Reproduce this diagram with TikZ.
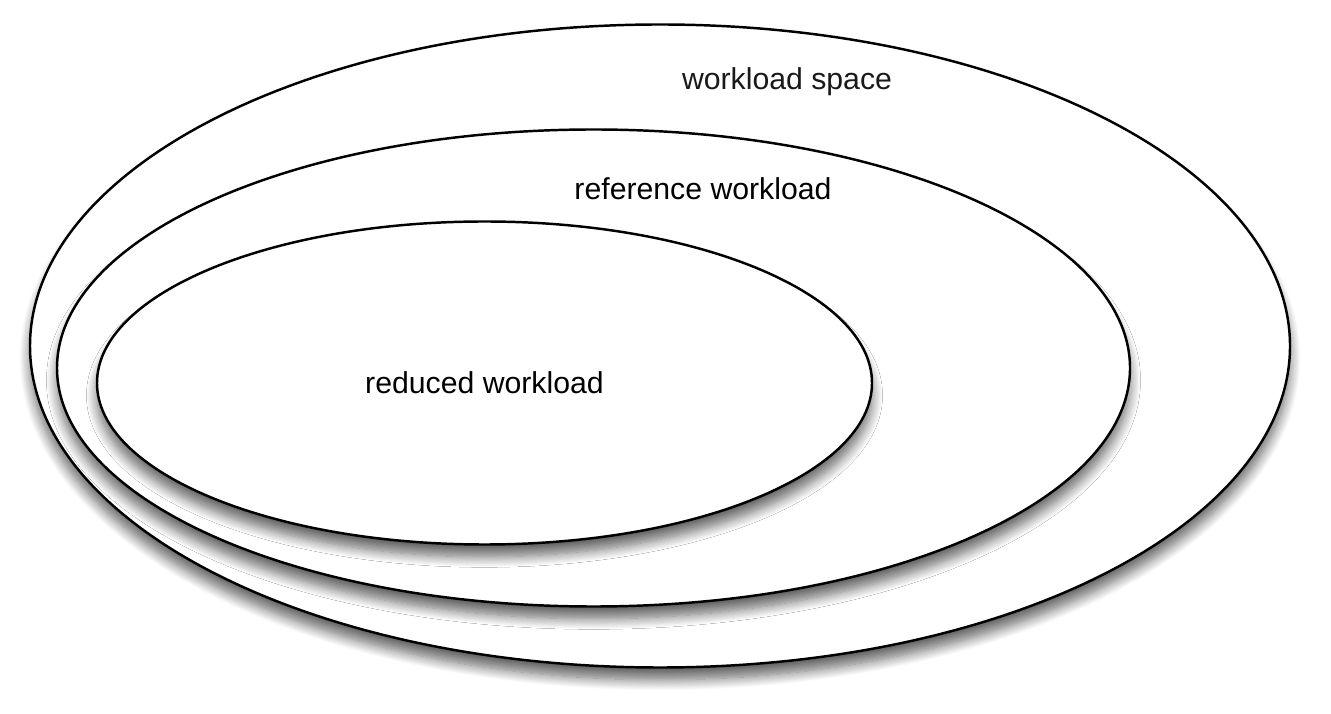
\documentclass[tikz,border=0pt]{standalone}
\usepackage{fontspec}
\setmainfont{Liberation Sans}
\usetikzlibrary{shapes.geometric}
\usetikzlibrary{shadows.blur}
\usetikzlibrary{positioning}

\tikzset{
  region/.style={draw,ellipse,fill=white,line width=0.7pt,inner sep=0pt,
    blur shadow={shadow xshift=0pt,shadow yshift=-3.5pt,shadow blur radius=3pt,shadow blur steps=12,shadow opacity=60}},
  tag/.style={font=\fontsize{8.6}{10}\selectfont,inner sep=0pt}
}

\begin{document}
\begin{tikzpicture}
  \useasboundingbox (0,0) rectangle (13.31,7.13);
  \node[region,minimum width=12.60cm,minimum height=6.43cm, name=space] at (6.60,3.67) {};
  \node[region,minimum width=10.73cm,minimum height=4.77cm, name=reference] at (5.935,3.45) {};
  \node[region,tag,minimum width=7.75cm,minimum height=3.23cm, name=reduced] at (4.845,3.30) {reduced workload};

  \node[tag,text=black!90, name=spacetag] at (7.87,6.31) {workload space};
  \node[tag, name=referencetag] at (7.03,5.24) {reference workload};
\end{tikzpicture}
\end{document}
